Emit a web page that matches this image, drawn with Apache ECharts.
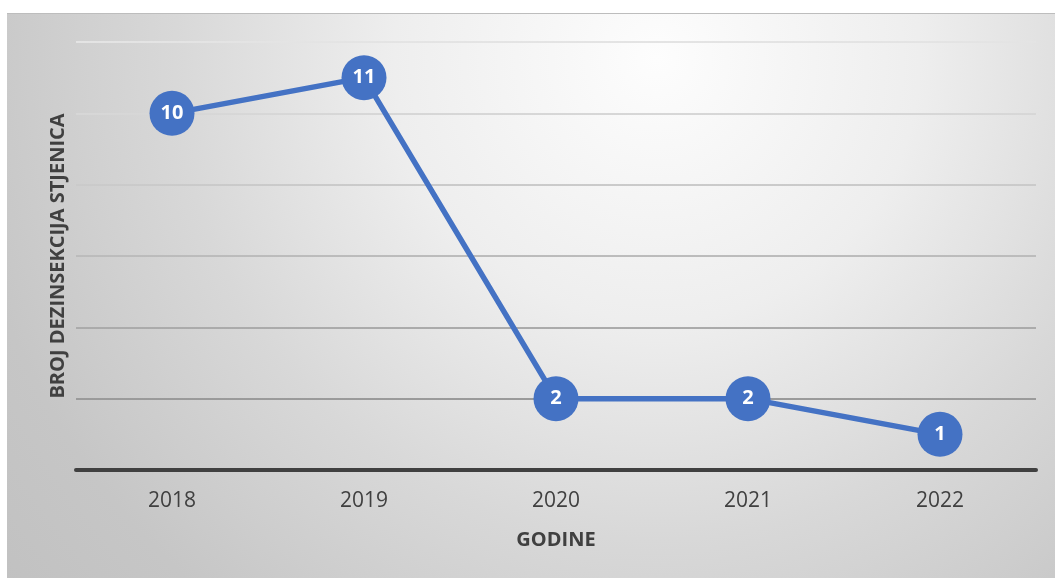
<!DOCTYPE html>
<html><head><meta charset="utf-8">
<script src="https://cdn.jsdelivr.net/npm/echarts@6/dist/echarts.min.js"></script>
<style>html,body{margin:0;padding:0;background:#fff}#c{width:1055px;height:578px}</style>
</head><body><div id="c"></div>
<script>
const categories = ['2018', '2019', '2020', '2021', '2022'];
const values = [10, 11, 2, 2, 1];
const xTitle = 'GODINE';
const yTitle = 'BROJ DEZINSEKCIJA STJENICA';

const chart = echarts.init(document.getElementById('c'), null, {renderer: 'canvas'});
chart.setOption({
  animation: false,
  backgroundColor: '#ffffff',
  graphic: [
    {type: 'rect', z: -10, silent: true,
     shape: {x: 7, y: 13, width: 1048, height: 565},
     style: {fill: {type: 'radial', x: 0.62, y: 0.08, r: 1.55,
       colorStops: [{offset: 0, color: '#fdfdfd'}, {offset: 0.3, color: '#eeeeee'},
                    {offset: 0.55, color: '#d8d8d8'}, {offset: 0.8, color: '#c6c6c6'}, {offset: 1, color: '#c0c0c0'}]}}},
    {type: 'line', z: -9, silent: true, shape: {x1: 7, y1: 13.5, x2: 1055, y2: 13.5},
     style: {stroke: '#bdbdbd', lineWidth: 1}}
  ],
  grid: {left: 76, right: 19, top: 42, bottom: 108, containLabel: false},
  xAxis: {
    type: 'category', data: categories, boundaryGap: true,
    name: xTitle, nameLocation: 'middle', nameGap: 60,
    nameTextStyle: {fontFamily: 'Open Sans', fontWeight: 'bold', fontSize: 20, color: '#404040'},
    axisLine: {show: true, lineStyle: {color: '#404040', width: 4}},
    axisTick: {show: false},
    axisLabel: {fontFamily: 'Open Sans', fontSize: 21, color: '#404040', margin: 21}
  },
  yAxis: {
    type: 'value', min: 0, max: 12, interval: 2,
    name: yTitle, nameLocation: 'middle', nameGap: 8, nameRotate: 90,
    nameTextStyle: {fontFamily: 'Open Sans', fontWeight: 'bold', fontSize: 20, color: '#404040'},
    axisLine: {show: false}, axisTick: {show: false}, axisLabel: {show: false},
    splitLine: {show: true, lineStyle: {width: 2,
      color: {type: 'linear', global: true, x: 0, y: 40, x2: 0, y2: 400,
        colorStops: [{offset: 0, color: '#e4e4e4'}, {offset: 0.5, color: '#c4c4c4'}, {offset: 1, color: '#9a9a9a'}]}}}
  },
  series: [{
    type: 'line', data: values,
    symbol: 'circle', symbolSize: 45,
    itemStyle: {color: '#4472C4'},
    lineStyle: {color: '#4472C4', width: 5.5},
    label: {show: true, position: 'inside', color: '#ffffff', fontFamily: 'Open Sans', fontWeight: 'bold', fontSize: 20}
  }]
});
</script></body></html>
